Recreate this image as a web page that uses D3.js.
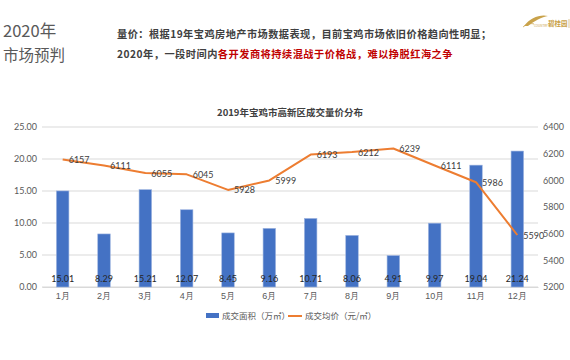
<!DOCTYPE html>
<html><head><meta charset="utf-8">
<script src="https://cdn.jsdelivr.net/npm/d3@7"></script>
<style>
html,body{margin:0;padding:0;background:#fff;}
svg{display:block;font-family:"Noto Sans CJK SC","Microsoft YaHei",sans-serif;}
</style></head>
<body>
<svg id="chart" width="570" height="360"></svg>
<script>
const months = ["1月","2月","3月","4月","5月","6月","7月","8月","9月","10月","11月","12月"];
const areaValues = [15.01, 8.29, 15.21, 12.07, 8.45, 9.16, 10.71, 8.06, 4.91, 9.97, 19.04, 21.24];
const priceValues = [6157, 6111, 6055, 6045, 5928, 5999, 6193, 6212, 6239, 6111, 5986, 5590];
const leftTicks = [0, 5, 10, 15, 20, 25];
const rightTicks = [5200, 5400, 5600, 5800, 6000, 6200, 6400];
const seriesNames = ["成交面积（万㎡）", "成交均价（元/㎡）"];
const chartTitle = "2019年宝鸡市高新区成交量价分布";

const svg = d3.select("#chart");
const barColor = "#4472C4", lineColor = "#ED7D31", textColor = "#595959";

// header
svg.append("text").attr("x", 3).attr("y", 37).attr("font-size", 16.5).attr("fill", "#595959").text("2020年");
svg.append("text").attr("x", 3).attr("y", 61).attr("font-size", 15.5).attr("fill", "#595959").text("市场预判");

svg.append("text").attr("x", 117).attr("y", 38).attr("font-size", 10.2).attr("font-weight", "bold")
  .attr("fill", "#404040").attr("letter-spacing", 0.45)
  .text("量价：根据19年宝鸡房地产市场数据表现，目前宝鸡市场依旧价格趋向性明显；");
const l2 = svg.append("text").attr("x", 117).attr("y", 58).attr("font-size", 10.2).attr("font-weight", "bold").attr("letter-spacing", 0.5);
l2.append("tspan").attr("fill", "#404040").text("2020年，一段时间内");
l2.append("tspan").attr("fill", "#C00000").text("各开发商将持续混战于价格战，难以挣脱红海之争");

// logo
const logo = svg.append("g").attr("transform", "translate(522,14)");
logo.append("path").attr("d", "M2,12 C8,4 18,0 26,2 C20,3 12,7 6,12 Z").attr("fill", "#C9A24A");
logo.append("path").attr("d", "M1,13 C5,10 9,9 12,10").attr("stroke", "#C9A24A").attr("fill", "none").attr("stroke-width", 0.8);
logo.append("text").attr("x", 12).attr("y", 13).attr("font-size", 3).attr("fill", "#C9A24A").text("COUNTRY");
logo.append("text").attr("x", 26).attr("y", 12).attr("font-size", 6.5).attr("font-weight", "bold").attr("fill", "#C9A24A").text("碧桂园");
logo.append("line").attr("x1", 47).attr("x2", 47).attr("y1", 5).attr("y2", 14).attr("stroke", "#C9A24A").attr("stroke-width", 0.6);

// chart title
svg.append("text").attr("x", 290).attr("y", 116).attr("text-anchor", "middle").attr("font-size", 9.5)
  .attr("font-weight", "bold").attr("fill", "#404040").text(chartTitle);

const x0 = 42, x1 = 538, yTop = 127, yBot = 287;
const x = d3.scaleBand().domain(months).range([x0, x1]);
const yL = d3.scaleLinear().domain([0, 25]).range([yBot, yTop]);
const yR = d3.scaleLinear().domain([5200, 6400]).range([yBot, yTop]);

// gridlines
svg.append("g").selectAll("line").data(leftTicks).join("line")
  .attr("x1", x0).attr("x2", x1).attr("y1", d => yL(d)).attr("y2", d => yL(d))
  .attr("stroke", "#D9D9D9").attr("stroke-width", 1);

// left axis
const axL = svg.append("g").attr("transform", `translate(${x0},0)`)
  .call(d3.axisLeft(yL).tickValues(leftTicks).tickFormat(d3.format(".2f")).tickSize(0).tickPadding(5));
axL.select(".domain").remove();
axL.selectAll("text").attr("font-size", 9).attr("fill", textColor).attr("font-family", "Lato,'Noto Sans',sans-serif");

// right axis
const axR = svg.append("g").attr("transform", `translate(${x1},0)`)
  .call(d3.axisRight(yR).tickValues(rightTicks).tickFormat(d3.format("d")).tickSize(0).tickPadding(5));
axR.select(".domain").remove();
axR.selectAll("text").attr("font-size", 9).attr("fill", textColor).attr("font-family", "Lato,'Noto Sans',sans-serif");

// x axis
const axX = svg.append("g").attr("transform", `translate(0,${yBot})`)
  .call(d3.axisBottom(x).tickSize(0).tickPadding(6));
axX.select(".domain").attr("stroke", "#D9D9D9");
axX.selectAll("text").attr("font-size", 9).attr("fill", textColor);

// bars
const bw = 12.5;
svg.append("g").selectAll("rect").data(areaValues).join("rect")
  .attr("x", (d, i) => x(months[i]) + x.bandwidth() / 2 - bw / 2)
  .attr("width", bw)
  .attr("y", d => yL(d))
  .attr("height", d => yBot - yL(d))
  .attr("fill", barColor).attr("stroke", "#9DB4E0").attr("stroke-width", 0.6);

// bar labels
svg.append("g").selectAll("text").data(areaValues).join("text")
  .attr("x", (d, i) => x(months[i]) + x.bandwidth() / 2)
  .attr("y", 282)
  .attr("text-anchor", "middle").attr("font-size", 9).attr("fill", "#262626")
  .attr("font-family", "Lato,'Noto Sans',sans-serif")
  .text(d => d3.format(".2f")(d));

// line
const line = d3.line().x((d, i) => x(months[i]) + x.bandwidth() / 2).y(d => yR(d));
svg.append("path").datum(priceValues).attr("d", line)
  .attr("fill", "none").attr("stroke", lineColor).attr("stroke-width", 2).attr("stroke-linejoin", "round");

// line labels
svg.append("g").selectAll("text").data(priceValues).join("text")
  .attr("x", (d, i) => x(months[i]) + x.bandwidth() / 2 + 6)
  .attr("y", d => yR(d) + 3.5)
  .attr("font-size", 9).attr("fill", "#404040")
  .attr("font-family", "Lato,'Noto Sans',sans-serif")
  .text(d => d);

// legend
const lg = svg.append("g").attr("transform", "translate(206,316)");
lg.append("rect").attr("x", 0).attr("y", -3).attr("width", 13).attr("height", 5).attr("fill", barColor);
lg.append("text").attr("x", 16).attr("y", 3).attr("font-size", 8.5).attr("fill", textColor).text(seriesNames[0]);
lg.append("line").attr("x1", 82).attr("x2", 96).attr("y1", 0).attr("y2", 0).attr("stroke", lineColor).attr("stroke-width", 2);
lg.append("text").attr("x", 99).attr("y", 3).attr("font-size", 8.5).attr("fill", textColor).text(seriesNames[1]);
</script>
</body></html>
